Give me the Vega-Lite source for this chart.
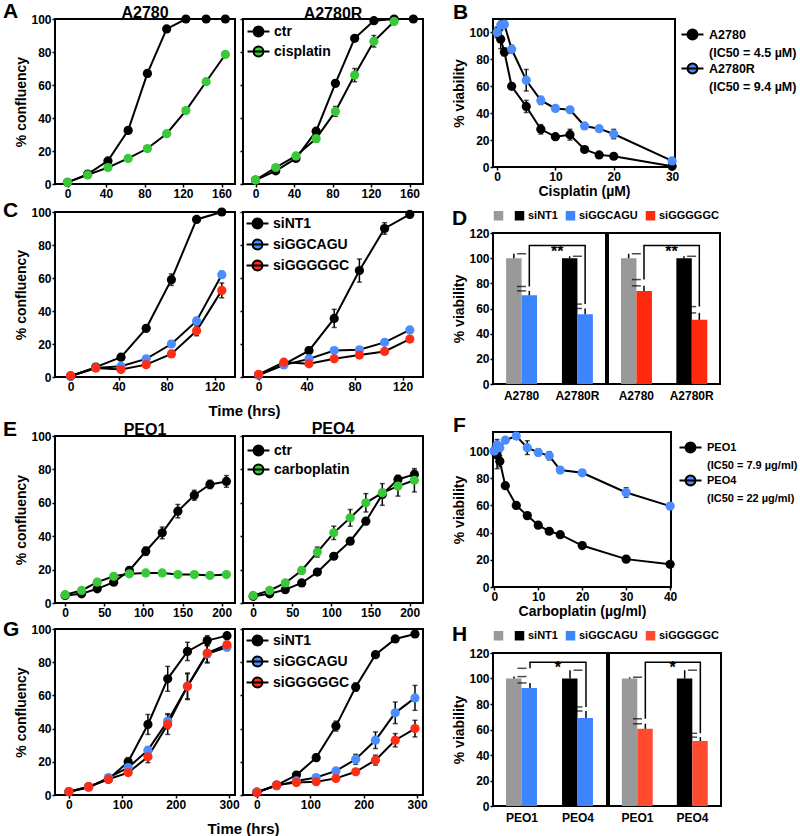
{
"$schema":"https://vega.github.io/schema/vega-lite/v6.json",
"padding":{"left":2,"top":0,"right":0,"bottom":0},
"background":"white",
"config":{
 "font":"Liberation Sans",
 "view":{"stroke":"black","strokeWidth":2},
 "concat":{"spacing":8},
 "axis":{"domain":false,"grid":false,"tickColor":"black","tickWidth":1.5,"tickSize":3,"labelFont":"Liberation Sans","labelFontSize":12,"labelFontWeight":"bold","labelColor":"black","labelPadding":1,"labelFlush":false,"labelOverlap":false,"titleFont":"Liberation Sans","titleFontSize":14,"titleFontWeight":"bold","titleColor":"black","titlePadding":2},
 "title":{"font":"Liberation Sans","fontSize":16,"fontWeight":"bold","color":"black","offset":2},
 "legend":{"labelFont":"Liberation Sans","labelFontWeight":"bold","labelColor":"black","labelLimit":300},
 "tick":{"bandSize":9,"thickness":1.5}
},
"datasets":{
 "A1":[
  {"s":"ctr","t":0,"v":1,"e":0.5},{"s":"ctr","t":21,"v":6,"e":1},{"s":"ctr","t":42,"v":14,"e":1},{"s":"ctr","t":63,"v":32.5,"e":1.5},{"s":"ctr","t":83,"v":67,"e":2},{"s":"ctr","t":103,"v":94,"e":1.5},{"s":"ctr","t":123,"v":100,"e":0.5},{"s":"ctr","t":144,"v":100,"e":0.5},{"s":"ctr","t":164,"v":100,"e":0.5},
  {"s":"cisplatin","t":0,"v":1,"e":0.5},{"s":"cisplatin","t":21,"v":5.5,"e":0.5},{"s":"cisplatin","t":42,"v":10,"e":0.5},{"s":"cisplatin","t":63,"v":15.5,"e":1},{"s":"cisplatin","t":83,"v":21.5,"e":1},{"s":"cisplatin","t":103,"v":30.5,"e":1.5},{"s":"cisplatin","t":123,"v":44.5,"e":1.5},{"s":"cisplatin","t":144,"v":62,"e":1.5},{"s":"cisplatin","t":164,"v":78.5,"e":1.5}],
 "A2":[
  {"s":"ctr","t":0,"v":2.4,"e":0.5},{"s":"ctr","t":21,"v":8,"e":1},{"s":"ctr","t":42,"v":15.5,"e":1},{"s":"ctr","t":63,"v":32,"e":1.5},{"s":"ctr","t":83,"v":61,"e":2},{"s":"ctr","t":103,"v":88.3,"e":1.5},{"s":"ctr","t":123,"v":99,"e":1},{"s":"ctr","t":144,"v":100,"e":0.5},{"s":"ctr","t":164,"v":100,"e":0.5},
  {"s":"cisplatin","t":0,"v":2.4,"e":0.5},{"s":"cisplatin","t":21,"v":10,"e":1},{"s":"cisplatin","t":42,"v":17,"e":1.5},{"s":"cisplatin","t":63,"v":27.5,"e":2},{"s":"cisplatin","t":83,"v":44,"e":3},{"s":"cisplatin","t":103,"v":66,"e":4},{"s":"cisplatin","t":123,"v":86.5,"e":3.5},{"s":"cisplatin","t":144,"v":98.5,"e":1}],
 "B":[
  {"s":"A2780","c":0,"v":100,"e":4},{"s":"A2780","c":0.625,"v":95,"e":7},{"s":"A2780","c":1.25,"v":85.5,"e":3},{"s":"A2780","c":2.5,"v":60,"e":2},{"s":"A2780","c":5,"v":45,"e":4.5},{"s":"A2780","c":7.5,"v":28,"e":3.5},{"s":"A2780","c":10,"v":22.5,"e":2},{"s":"A2780","c":12.5,"v":24,"e":4},{"s":"A2780","c":15,"v":13,"e":2},{"s":"A2780","c":17.5,"v":9,"e":1.5},{"s":"A2780","c":20,"v":8,"e":1.5},{"s":"A2780","c":30,"v":0.5,"e":1},
  {"s":"A2780R","c":0,"v":100,"e":3},{"s":"A2780R","c":0.625,"v":105.5,"e":4},{"s":"A2780R","c":1.25,"v":106,"e":3},{"s":"A2780R","c":2.5,"v":87.5,"e":3},{"s":"A2780R","c":5,"v":64.5,"e":8},{"s":"A2780R","c":7.5,"v":49.5,"e":3},{"s":"A2780R","c":10,"v":43.5,"e":2},{"s":"A2780R","c":12.5,"v":42.5,"e":2},{"s":"A2780R","c":15,"v":30.5,"e":2},{"s":"A2780R","c":17.5,"v":28.5,"e":1.5},{"s":"A2780R","c":20,"v":24.5,"e":3.5},{"s":"A2780R","c":30,"v":4.5,"e":1}],
 "C1":[
  {"s":"siNT1","t":0,"v":0.5,"e":0.5},{"s":"siNT1","t":21,"v":6,"e":1},{"s":"siNT1","t":42,"v":12,"e":1},{"s":"siNT1","t":63,"v":29.5,"e":2},{"s":"siNT1","t":84,"v":59,"e":3.5},{"s":"siNT1","t":105,"v":95.5,"e":1.5},{"s":"siNT1","t":126,"v":100,"e":0.5},
  {"s":"siGGCAGU","t":0,"v":0.5,"e":0.5},{"s":"siGGCAGU","t":21,"v":5.5,"e":1},{"s":"siGGCAGU","t":42,"v":6.5,"e":1},{"s":"siGGCAGU","t":63,"v":11,"e":1.5},{"s":"siGGCAGU","t":84,"v":20,"e":2},{"s":"siGGCAGU","t":105,"v":34,"e":2},{"s":"siGGCAGU","t":126,"v":62,"e":2},
  {"s":"siGGGGGC","t":0,"v":0.8,"e":0.5},{"s":"siGGGGGC","t":21,"v":5.5,"e":1},{"s":"siGGGGGC","t":42,"v":4.5,"e":1},{"s":"siGGGGGC","t":63,"v":7.5,"e":1},{"s":"siGGGGGC","t":84,"v":14,"e":2},{"s":"siGGGGGC","t":105,"v":28,"e":3},{"s":"siGGGGGC","t":126,"v":52.5,"e":4.5}],
 "C2":[
  {"s":"siNT1","t":0,"v":1.2,"e":0.5},{"s":"siNT1","t":21,"v":7.7,"e":1},{"s":"siNT1","t":42,"v":16,"e":2},{"s":"siNT1","t":63,"v":35.5,"e":5.5},{"s":"siNT1","t":84,"v":64.5,"e":7},{"s":"siNT1","t":105,"v":90,"e":3.5},{"s":"siNT1","t":126,"v":98.5,"e":1.5},
  {"s":"siGGCAGU","t":0,"v":1.2,"e":0.5},{"s":"siGGCAGU","t":21,"v":7.3,"e":1},{"s":"siGGCAGU","t":42,"v":11,"e":1.5},{"s":"siGGCAGU","t":63,"v":16,"e":1.5},{"s":"siGGCAGU","t":84,"v":16.5,"e":1.5},{"s":"siGGCAGU","t":105,"v":21,"e":1.5},{"s":"siGGCAGU","t":126,"v":28.5,"e":1.5},
  {"s":"siGGGGGC","t":0,"v":1.6,"e":0.5},{"s":"siGGGGGC","t":21,"v":9,"e":1},{"s":"siGGGGGC","t":42,"v":8,"e":1.5},{"s":"siGGGGGC","t":63,"v":11,"e":1.5},{"s":"siGGGGGC","t":84,"v":13.3,"e":1.5},{"s":"siGGGGGC","t":105,"v":15.5,"e":1.5},{"s":"siGGGGGC","t":126,"v":23,"e":1.5}],
 "D1":[{"cat":"A2780","k":"ctl","g":"NT1a","v":100,"hi":103.5},{"cat":"A2780","k":"trt","g":"siGGCAGU","v":70.5,"hi":74},{"cat":"A2780R","k":"ctl","g":"siNT1","v":100,"hi":101.5},{"cat":"A2780R","k":"trt","g":"siGGCAGU","v":55.5,"hi":60}],
 "D2":[{"cat":"A2780","k":"ctl","g":"NT1a","v":100,"hi":103.5},{"cat":"A2780","k":"trt","g":"siGGGGGC","v":74,"hi":78},{"cat":"A2780R","k":"ctl","g":"siNT1","v":100,"hi":101.5},{"cat":"A2780R","k":"trt","g":"siGGGGGC","v":51,"hi":56.5}],
 "D1br":[{"cat":"A2780","y":77.5,"o":1},{"cat":"A2780","y":110,"o":2},{"cat":"A2780R","y":110,"o":3},{"cat":"A2780R","y":63.5,"o":4}],
 "D2br":[{"cat":"A2780","y":83,"o":1},{"cat":"A2780","y":110,"o":2},{"cat":"A2780R","y":110,"o":3},{"cat":"A2780R","y":61.5,"o":4}],
 "E1":[
  {"s":"ctr","t":0,"v":4.5,"e":1},{"s":"ctr","t":21,"v":5.5,"e":1},{"s":"ctr","t":41,"v":8.5,"e":1},{"s":"ctr","t":62,"v":12.5,"e":1.5},{"s":"ctr","t":82,"v":19.5,"e":2},{"s":"ctr","t":103,"v":31,"e":2.5},{"s":"ctr","t":124,"v":42,"e":3.5},{"s":"ctr","t":144,"v":55,"e":4},{"s":"ctr","t":165,"v":64.5,"e":3},{"s":"ctr","t":185,"v":71,"e":2.5},{"s":"ctr","t":206,"v":72.8,"e":3.5},
  {"s":"carboplatin","t":0,"v":5,"e":1},{"s":"carboplatin","t":21,"v":7.5,"e":1},{"s":"carboplatin","t":41,"v":12.5,"e":1.5},{"s":"carboplatin","t":62,"v":16,"e":1.5},{"s":"carboplatin","t":82,"v":17.5,"e":1.5},{"s":"carboplatin","t":103,"v":18,"e":1},{"s":"carboplatin","t":124,"v":18,"e":1},{"s":"carboplatin","t":144,"v":17,"e":1},{"s":"carboplatin","t":165,"v":17,"e":1},{"s":"carboplatin","t":185,"v":16.5,"e":1},{"s":"carboplatin","t":206,"v":17,"e":1}],
 "E2":[
  {"s":"ctr","t":0,"v":4,"e":1},{"s":"ctr","t":21,"v":5.5,"e":1},{"s":"ctr","t":41,"v":8,"e":1},{"s":"ctr","t":62,"v":12,"e":1},{"s":"ctr","t":82,"v":18.5,"e":1.5},{"s":"ctr","t":103,"v":28,"e":1.5},{"s":"ctr","t":124,"v":37,"e":1.5},{"s":"ctr","t":144,"v":49,"e":2},{"s":"ctr","t":165,"v":65,"e":6.5},{"s":"ctr","t":185,"v":74,"e":2.5},{"s":"ctr","t":206,"v":77,"e":2.5},
  {"s":"carboplatin","t":0,"v":4.5,"e":1},{"s":"carboplatin","t":21,"v":7.5,"e":1},{"s":"carboplatin","t":41,"v":12,"e":1.5},{"s":"carboplatin","t":62,"v":19.5,"e":2},{"s":"carboplatin","t":82,"v":30.5,"e":3},{"s":"carboplatin","t":103,"v":42,"e":4},{"s":"carboplatin","t":124,"v":51,"e":5},{"s":"carboplatin","t":144,"v":60,"e":5.5},{"s":"carboplatin","t":165,"v":66,"e":2},{"s":"carboplatin","t":185,"v":70,"e":6},{"s":"carboplatin","t":206,"v":73.5,"e":7}],
 "F":[
  {"s":"PEO1","c":0,"v":100,"e":4},{"s":"PEO1","c":0.625,"v":97,"e":10},{"s":"PEO1","c":1.25,"v":92.5,"e":4},{"s":"PEO1","c":2.5,"v":74.5,"e":2},{"s":"PEO1","c":5,"v":60,"e":2},{"s":"PEO1","c":7.5,"v":52.5,"e":2},{"s":"PEO1","c":10,"v":45.5,"e":2},{"s":"PEO1","c":12.5,"v":41,"e":2},{"s":"PEO1","c":15,"v":38.5,"e":2},{"s":"PEO1","c":20,"v":30.5,"e":1.5},{"s":"PEO1","c":30,"v":20.5,"e":1.5},{"s":"PEO1","c":40,"v":16.7,"e":1.5},
  {"s":"PEO4","c":0,"v":100,"e":3},{"s":"PEO4","c":0.625,"v":104.5,"e":4},{"s":"PEO4","c":1.25,"v":102.5,"e":3},{"s":"PEO4","c":2.5,"v":108,"e":2},{"s":"PEO4","c":5,"v":111,"e":2},{"s":"PEO4","c":7.5,"v":102.5,"e":5},{"s":"PEO4","c":10,"v":99,"e":2.5},{"s":"PEO4","c":12.5,"v":96.5,"e":3},{"s":"PEO4","c":15,"v":86,"e":2},{"s":"PEO4","c":20,"v":84,"e":2},{"s":"PEO4","c":30,"v":69.5,"e":3.5},{"s":"PEO4","c":40,"v":59.5,"e":2.5}],
 "G1":[
  {"s":"siNT1","t":0,"v":2,"e":0.5},{"s":"siNT1","t":37,"v":5,"e":1},{"s":"siNT1","t":74,"v":9.5,"e":1.5},{"s":"siNT1","t":111,"v":20,"e":2.5},{"s":"siNT1","t":148,"v":42.5,"e":6},{"s":"siNT1","t":185,"v":70,"e":7.5},{"s":"siNT1","t":222,"v":86.5,"e":5.5},{"s":"siNT1","t":259,"v":93,"e":3},{"s":"siNT1","t":296,"v":96,"e":1.5},
  {"s":"siGGCAGU","t":0,"v":2,"e":0.5},{"s":"siGGCAGU","t":37,"v":4.5,"e":1},{"s":"siGGCAGU","t":74,"v":10.5,"e":1},{"s":"siGGCAGU","t":111,"v":16.5,"e":1.5},{"s":"siGGCAGU","t":148,"v":27,"e":2},{"s":"siGGCAGU","t":185,"v":44.5,"e":4.5},{"s":"siGGCAGU","t":222,"v":65.5,"e":8},{"s":"siGGCAGU","t":259,"v":85,"e":5},{"s":"siGGCAGU","t":296,"v":89,"e":2},
  {"s":"siGGGGGC","t":0,"v":2,"e":0.5},{"s":"siGGGGGC","t":37,"v":5,"e":1},{"s":"siGGGGGC","t":74,"v":9.5,"e":1},{"s":"siGGGGGC","t":111,"v":13.5,"e":1.5},{"s":"siGGGGGC","t":148,"v":23,"e":3.5},{"s":"siGGGGGC","t":185,"v":42.5,"e":6},{"s":"siGGGGGC","t":222,"v":65.5,"e":7.5},{"s":"siGGGGGC","t":259,"v":85.5,"e":6},{"s":"siGGGGGC","t":296,"v":90.5,"e":2}],
 "G2":[
  {"s":"siNT1","t":0,"v":1.5,"e":0.5},{"s":"siNT1","t":37,"v":6,"e":1},{"s":"siNT1","t":74,"v":12,"e":1.5},{"s":"siNT1","t":111,"v":22.5,"e":2},{"s":"siNT1","t":148,"v":41.5,"e":3},{"s":"siNT1","t":185,"v":65,"e":2.5},{"s":"siNT1","t":222,"v":84.5,"e":1.5},{"s":"siNT1","t":259,"v":94,"e":1.5},{"s":"siNT1","t":296,"v":97,"e":1.5},
  {"s":"siGGCAGU","t":0,"v":2,"e":0.5},{"s":"siGGCAGU","t":37,"v":5.5,"e":1},{"s":"siGGCAGU","t":74,"v":8.5,"e":1},{"s":"siGGCAGU","t":111,"v":10.5,"e":1},{"s":"siGGCAGU","t":148,"v":14.5,"e":1.5},{"s":"siGGCAGU","t":185,"v":21.5,"e":3},{"s":"siGGCAGU","t":222,"v":33,"e":5},{"s":"siGGCAGU","t":259,"v":49.5,"e":6.5},{"s":"siGGCAGU","t":296,"v":58.5,"e":7.5},
  {"s":"siGGGGGC","t":0,"v":1.5,"e":0.5},{"s":"siGGGGGC","t":37,"v":6,"e":1},{"s":"siGGGGGC","t":74,"v":7.5,"e":1.5},{"s":"siGGGGGC","t":111,"v":8,"e":1},{"s":"siGGGGGC","t":148,"v":10,"e":1},{"s":"siGGGGGC","t":185,"v":14,"e":1.5},{"s":"siGGGGGC","t":222,"v":21,"e":3},{"s":"siGGGGGC","t":259,"v":33,"e":4},{"s":"siGGGGGC","t":296,"v":40,"e":5}],
 "H1":[{"cat":"PEO1","k":"ctl","g":"NT1a","v":100,"hi":101.5},{"cat":"PEO1","k":"trt","g":"siGGCAGU","v":92.5,"hi":96.5},{"cat":"PEO4","k":"ctl","g":"siNT1","v":100,"hi":106.5},{"cat":"PEO4","k":"trt","g":"siGGCAGU","v":69,"hi":74.5}],
 "H2":[{"cat":"PEO1","k":"ctl","g":"NT1a","v":100,"hi":101},{"cat":"PEO1","k":"trt","g":"siGGGGGC","v":60.5,"hi":64.5},{"cat":"PEO4","k":"ctl","g":"siNT1","v":100,"hi":106.5},{"cat":"PEO4","k":"trt","g":"siGGGGGC","v":51,"hi":54}],
 "H1br":[{"cat":"PEO1","y":108,"o":1},{"cat":"PEO1","y":112.7,"o":2},{"cat":"PEO4","y":112.7,"o":3},{"cat":"PEO4","y":77.7,"o":4}],
 "H2br":[{"cat":"PEO1","y":68.4,"o":1},{"cat":"PEO1","y":112.7,"o":2},{"cat":"PEO4","y":112.7,"o":3},{"cat":"PEO4","y":57,"o":4}]
},
"spacing":22,
"resolve":{"scale":{"color":"independent","opacity":"independent"}},
"hconcat":[
 {"spacing":0,"resolve":{"scale":{"color":"independent"}},"vconcat":[
  {"spacing":0,"resolve":{"scale":{"color":"independent"}},"vconcat":[
   {"title":{"text":"A","anchor":"start","frame":"bounds","fontSize":21,"offset":-18,"dx":-11},"spacing":8,"bounds":"flush","resolve":{"scale":{"color":"independent"}},"hconcat":[
    {"title":{"text":"A2780","offset":-8},"width":180,"height":165,"data":{"name":"A1"},
     "encoding":{"x":{"field":"t","type":"quantitative","title":null,"scale":{"domain":[-13,174],"nice":false,"zero":false},"axis":{"values":[0,40,80,120,160]}},
                 "y":{"field":"v","type":"quantitative","title":"% confluency","scale":{"domain":[0,100],"nice":false},"axis":{"values":[0,20,40,60,80,100]}}},
     "layer":[
      {"mark":{"type":"line","color":"black","strokeWidth":2},"encoding":{"detail":{"field":"s"}}},
      {"mark":{"type":"errorbar","ticks":true,"thickness":1.5,"color":"black"},"encoding":{"yError":{"field":"e"},"detail":{"field":"s"}}},
      {"mark":{"type":"point","filled":true,"size":85,"opacity":1},"encoding":{"color":{"field":"s","type":"nominal","scale":{"domain":["ctr","cisplatin"],"range":["#000000","#38c838"]},"legend":null}}}
     ]},
    {"title":{"text":"A2780R","offset":-8},"width":180,"height":165,"data":{"name":"A2"},
     "encoding":{"x":{"field":"t","type":"quantitative","title":null,"scale":{"domain":[-13,174],"nice":false,"zero":false},"axis":{"values":[0,40,80,120,160]}},
                 "y":{"field":"v","type":"quantitative","title":null,"scale":{"domain":[0,100],"nice":false},"axis":{"values":[0,20,40,60,80,100],"labels":false}}},
     "layer":[
      {"mark":{"type":"line","color":"black","strokeWidth":2},"encoding":{"detail":{"field":"s"}}},
      {"mark":{"type":"errorbar","ticks":true,"thickness":1.5,"color":"black"},"encoding":{"yError":{"field":"e"},"detail":{"field":"s"}}},
      {"mark":{"type":"point","filled":true,"size":85,"opacity":1},"encoding":{"color":{"field":"s","type":"nominal","scale":{"domain":["ctr","cisplatin"],"range":["#000000","#38c838"]},
        "legend":{"orient":"top-left","title":null,"offset":3,"padding":0,"labelFontSize":14,"labelOffset":6,"symbolOffset":3,"rowPadding":1,"symbolType":"M-1.33,0L1.33,0M0.6,0A0.6,0.6,0,1,1,-0.6,0A0.6,0.6,0,1,1,0.6,0Z","symbolSize":272,"symbolStrokeColor":"black","symbolStrokeWidth":2}}}},
      {"data":{"values":[{"txt":"p<0.01"}]},"mark":{"type":"text","align":"right","baseline":"bottom","dx":-9,"dy":-4,"fontSize":14,"fontWeight":"bold","color":"black"},"encoding":{"x":{"datum":174},"y":{"datum":0},"text":{"field":"txt"}}}
     ]}
   ]},
   {"title":{"text":"C","anchor":"start","frame":"bounds","fontSize":21,"offset":-16,"dx":-11},"spacing":8,"bounds":"flush","resolve":{"scale":{"color":"independent"}},"hconcat":[
    {"width":180,"height":165,"data":{"name":"C1"},
     "encoding":{"x":{"field":"t","type":"quantitative","title":"Time (hrs)","scale":{"domain":[-13,137],"nice":false,"zero":false},"axis":{"values":[0,40,80,120],"titleX":189,"titleFontSize":15,"titlePadding":11}},
                 "y":{"field":"v","type":"quantitative","title":"% confluency","scale":{"domain":[0,100],"nice":false},"axis":{"values":[0,20,40,60,80,100]}}},
     "layer":[
      {"mark":{"type":"line","color":"black","strokeWidth":2},"encoding":{"detail":{"field":"s"}}},
      {"mark":{"type":"errorbar","ticks":true,"thickness":1.5,"color":"black"},"encoding":{"yError":{"field":"e"},"detail":{"field":"s"}}},
      {"mark":{"type":"point","filled":true,"size":85,"opacity":1},"encoding":{"color":{"field":"s","type":"nominal","scale":{"domain":["siNT1","siGGCAGU","siGGGGGC"],"range":["#000000","#4b8dff","#ff2d14"]},"legend":null}}}
     ]},
    {"width":180,"height":165,"data":{"name":"C2"},
     "encoding":{"x":{"field":"t","type":"quantitative","title":null,"scale":{"domain":[-13,137],"nice":false,"zero":false},"axis":{"values":[0,40,80,120]}},
                 "y":{"field":"v","type":"quantitative","title":null,"scale":{"domain":[0,100],"nice":false},"axis":{"values":[0,20,40,60,80,100],"labels":false}}},
     "layer":[
      {"mark":{"type":"line","color":"black","strokeWidth":2},"encoding":{"detail":{"field":"s"}}},
      {"mark":{"type":"errorbar","ticks":true,"thickness":1.5,"color":"black"},"encoding":{"yError":{"field":"e"},"detail":{"field":"s"}}},
      {"mark":{"type":"point","filled":true,"size":85,"opacity":1},"encoding":{"color":{"field":"s","type":"nominal","scale":{"domain":["siNT1","siGGCAGU","siGGGGGC"],"range":["#000000","#4b8dff","#ff2d14"]},
        "legend":{"orient":"top-left","title":null,"offset":2,"padding":0,"labelFontSize":14,"labelOffset":6,"symbolOffset":3,"rowPadding":2,"symbolType":"M-1.33,0L1.33,0M0.6,0A0.6,0.6,0,1,1,-0.6,0A0.6,0.6,0,1,1,0.6,0Z","symbolSize":272,"symbolStrokeColor":"black","symbolStrokeWidth":2}}}},
      {"data":{"values":[{"txt":"p<0.0001"}]},"mark":{"type":"text","align":"right","baseline":"bottom","dx":-9,"dy":-4,"fontSize":14,"fontWeight":"bold","color":"black"},"encoding":{"x":{"datum":137},"y":{"datum":0},"text":{"field":"txt"}}}
     ]}
   ]}
  ]},
  {"spacing":0,"resolve":{"scale":{"color":"independent"}},"vconcat":[
   {"title":{"text":"E","anchor":"start","frame":"bounds","fontSize":21,"offset":-20,"dx":-11},"spacing":8,"bounds":"flush","resolve":{"scale":{"color":"independent"}},"hconcat":[
    {"title":{"text":"PEO1","offset":-8},"width":180,"height":167,"data":{"name":"E1"},
     "encoding":{"x":{"field":"t","type":"quantitative","title":null,"scale":{"domain":[-13,217],"nice":false,"zero":false},"axis":{"values":[0,50,100,150,200]}},
                 "y":{"field":"v","type":"quantitative","title":"% confluency","scale":{"domain":[0,100],"nice":false},"axis":{"values":[0,20,40,60,80,100]}}},
     "layer":[
      {"mark":{"type":"line","color":"black","strokeWidth":2},"encoding":{"detail":{"field":"s"}}},
      {"mark":{"type":"errorbar","ticks":true,"thickness":1.5,"color":"black"},"encoding":{"yError":{"field":"e"},"detail":{"field":"s"}}},
      {"mark":{"type":"point","filled":true,"size":85,"opacity":1},"encoding":{"color":{"field":"s","type":"nominal","scale":{"domain":["ctr","carboplatin"],"range":["#000000","#38c838"]},"legend":null}}}
     ]},
    {"title":{"text":"PEO4","offset":-2},"width":180,"height":167,"data":{"name":"E2"},
     "encoding":{"x":{"field":"t","type":"quantitative","title":null,"scale":{"domain":[-13,217],"nice":false,"zero":false},"axis":{"values":[0,50,100,150,200]}},
                 "y":{"field":"v","type":"quantitative","title":null,"scale":{"domain":[0,100],"nice":false},"axis":{"values":[0,20,40,60,80,100],"labels":false}}},
     "layer":[
      {"mark":{"type":"line","color":"black","strokeWidth":2},"encoding":{"detail":{"field":"s"}}},
      {"mark":{"type":"errorbar","ticks":true,"thickness":1.5,"color":"black"},"encoding":{"yError":{"field":"e"},"detail":{"field":"s"}}},
      {"mark":{"type":"point","filled":true,"size":85,"opacity":1},"encoding":{"color":{"field":"s","type":"nominal","scale":{"domain":["ctr","carboplatin"],"range":["#000000","#38c838"]},
        "legend":{"orient":"top-left","title":null,"offset":5,"padding":0,"labelFontSize":14,"labelOffset":6,"symbolOffset":1,"rowPadding":0,"symbolType":"M-1.33,0L1.33,0M0.6,0A0.6,0.6,0,1,1,-0.6,0A0.6,0.6,0,1,1,0.6,0Z","symbolSize":272,"symbolStrokeColor":"black","symbolStrokeWidth":2}}}},
      {"data":{"values":[{"txt":"p<0.0001"}]},"mark":{"type":"text","align":"right","baseline":"bottom","dx":-9,"dy":-4,"fontSize":14,"fontWeight":"bold","color":"black"},"encoding":{"x":{"datum":217},"y":{"datum":0},"text":{"field":"txt"}}}
     ]}
   ]},
   {"title":{"text":"G","anchor":"start","frame":"bounds","fontSize":21,"offset":-18,"dx":-11},"spacing":8,"bounds":"flush","resolve":{"scale":{"color":"independent"}},"hconcat":[
    {"width":180,"height":166,"data":{"name":"G1"},
     "encoding":{"x":{"field":"t","type":"quantitative","title":"Time (hrs)","scale":{"domain":[-26,311],"nice":false,"zero":false},"axis":{"values":[0,100,200,300],"titleX":188,"titleFontSize":15,"titlePadding":11}},
                 "y":{"field":"v","type":"quantitative","title":"% confluency","scale":{"domain":[0,100],"nice":false},"axis":{"values":[0,20,40,60,80,100]}}},
     "layer":[
      {"mark":{"type":"line","color":"black","strokeWidth":2},"encoding":{"detail":{"field":"s"}}},
      {"mark":{"type":"errorbar","ticks":true,"thickness":1.5,"color":"black"},"encoding":{"yError":{"field":"e"},"detail":{"field":"s"}}},
      {"mark":{"type":"point","filled":true,"size":85,"opacity":1},"encoding":{"color":{"field":"s","type":"nominal","scale":{"domain":["siNT1","siGGCAGU","siGGGGGC"],"range":["#000000","#4b8dff","#ff2d14"]},"legend":null}}}
     ]},
    {"width":180,"height":166,"data":{"name":"G2"},
     "encoding":{"x":{"field":"t","type":"quantitative","title":null,"scale":{"domain":[-26,311],"nice":false,"zero":false},"axis":{"values":[0,100,200,300]}},
                 "y":{"field":"v","type":"quantitative","title":null,"scale":{"domain":[0,100],"nice":false},"axis":{"values":[0,20,40,60,80,100],"labels":false}}},
     "layer":[
      {"mark":{"type":"line","color":"black","strokeWidth":2},"encoding":{"detail":{"field":"s"}}},
      {"mark":{"type":"errorbar","ticks":true,"thickness":1.5,"color":"black"},"encoding":{"yError":{"field":"e"},"detail":{"field":"s"}}},
      {"mark":{"type":"point","filled":true,"size":85,"opacity":1},"encoding":{"color":{"field":"s","type":"nominal","scale":{"domain":["siNT1","siGGCAGU","siGGGGGC"],"range":["#000000","#4b8dff","#ff2d14"]},
        "legend":{"orient":"top-left","title":null,"offset":2,"padding":0,"labelFontSize":14,"labelOffset":6,"symbolOffset":3,"rowPadding":2,"symbolType":"M-1.33,0L1.33,0M0.6,0A0.6,0.6,0,1,1,-0.6,0A0.6,0.6,0,1,1,0.6,0Z","symbolSize":272,"symbolStrokeColor":"black","symbolStrokeWidth":2}}}},
      {"data":{"values":[{"txt":"p<0.0001"}]},"mark":{"type":"text","align":"right","baseline":"bottom","dx":-9,"dy":-4,"fontSize":14,"fontWeight":"bold","color":"black"},"encoding":{"x":{"datum":311},"y":{"datum":0},"text":{"field":"txt"}}}
     ]}
   ]}
  ]}
 ]},
 {"spacing":12,"resolve":{"scale":{"color":"independent","opacity":"independent"}},"vconcat":[
  {"spacing":9,"resolve":{"scale":{"color":"independent","opacity":"independent"}},"vconcat":[
   {"title":{"text":"B","anchor":"start","frame":"bounds","fontSize":21,"offset":-4},"width":182,"height":148,"data":{"name":"B"},
    "encoding":{"x":{"field":"c","type":"quantitative","title":"Cisplatin (µM)","scale":{"domain":[-0.7,30.5],"nice":false,"zero":false},"axis":{"values":[0,10,20,30]}},
                "y":{"field":"v","type":"quantitative","title":"% viability","scale":{"domain":[0,110],"nice":false},"axis":{"values":[0,20,40,60,80,100]}}},
    "layer":[
     {"mark":{"type":"line","color":"black","strokeWidth":2},"encoding":{"detail":{"field":"s"}}},
     {"mark":{"type":"errorbar","ticks":true,"thickness":1.5,"color":"black"},"encoding":{"yError":{"field":"e"},"detail":{"field":"s"}}},
     {"mark":{"type":"point","filled":true,"size":85},"encoding":{
       "color":{"field":"s","type":"nominal","scale":{"domain":["A2780","(IC50 = 4.5 µM)","A2780R","(IC50 = 9.4 µM)"],"range":["#000000","#ffffff","#4b8dff","#ffffff"]},
        "legend":{"orient":"right","title":null,"offset":0,"padding":7,"labelFontSize":12.5,"labelOffset":8,"rowPadding":0,"symbolType":"M-1.56,0L1.56,0M0.7,0A0.7,0.7,0,1,1,-0.7,0A0.7,0.7,0,1,1,0.7,0Z","symbolSize":200,"symbolStrokeColor":"black","symbolStrokeWidth":2}},
       "opacity":{"field":"s","type":"nominal","scale":{"type":"ordinal","domain":["A2780","(IC50 = 4.5 µM)","A2780R","(IC50 = 9.4 µM)"],"range":[1,0,1,0]},
        "legend":{"orient":"right","title":null,"offset":0,"padding":7,"labelFontSize":12.5,"labelOffset":8,"rowPadding":0,"symbolType":"M-1.56,0L1.56,0M0.7,0A0.7,0.7,0,1,1,-0.7,0A0.7,0.7,0,1,1,0.7,0Z","symbolSize":200,"symbolStrokeColor":"black","symbolStrokeWidth":2}}}}
    ]},
   {"title":{"text":"D","anchor":"start","frame":"bounds","fontSize":21,"offset":-19},"spacing":0,"hconcat":[
    {"width":113,"height":151,"data":{"name":"D1"},
     "encoding":{"x":{"field":"cat","type":"nominal","title":null,"sort":["A2780","A2780R"],"scale":{"paddingInner":0.446,"paddingOuter":0.235},"axis":{"ticks":false,"labelAngle":0,"labelPadding":6}},
                 "y":{"field":"v","type":"quantitative","title":"% viability","scale":{"domain":[0,120],"nice":false},"axis":{"values":[0,20,40,60,80,100,120]}}},
     "layer":[
      {"mark":{"type":"bar"},"encoding":{"xOffset":{"field":"k","type":"nominal","sort":["ctl","trt"]},"color":{"field":"g","type":"nominal","scale":{"domain":["NT1a","siNT1","siGGCAGU","siGGGGGC"],"range":["#999999","#000000","#3d85ff","#ff2a0d"]},
        "legend":{"orient":"top","direction":"horizontal","title":null,"offset":5,"padding":0,"symbolType":"square","symbolSize":90,"symbolStrokeWidth":0,"labelFontSize":11,"labelOffset":3,"columnPadding":7,"labelExpr":"datum.value=='NT1a' ? '' : datum.label"}}}},
      {"transform":[{"filter":"datum.k=='ctl'"}],"mark":{"type":"rule","color":"black","strokeWidth":1.5},"encoding":{"x":{"field":"cat","type":"nominal","bandPosition":0.25},"y2":{"field":"hi"}}},
      {"transform":[{"filter":"datum.k=='ctl'"}],"mark":{"type":"tick","orient":"horizontal","color":"black","thickness":1.5,"size":9},"encoding":{"x":{"field":"cat","type":"nominal","bandPosition":0.25},"y":{"field":"hi","type":"quantitative"}}},
      {"transform":[{"filter":"datum.k=='trt'"}],"mark":{"type":"rule","color":"black","strokeWidth":1.5},"encoding":{"x":{"field":"cat","type":"nominal","bandPosition":0.75},"y2":{"field":"hi"}}},
      {"transform":[{"filter":"datum.k=='trt'"}],"mark":{"type":"tick","orient":"horizontal","color":"black","thickness":1.5,"size":9},"encoding":{"x":{"field":"cat","type":"nominal","bandPosition":0.75},"y":{"field":"hi","type":"quantitative"}}},
      {"data":{"name":"D1br"},"mark":{"type":"line","color":"black","strokeWidth":1.5},"encoding":{"x":{"field":"cat","type":"nominal","bandPosition":0.75},"y":{"field":"y","type":"quantitative"},"order":{"field":"o"}}},
      {"data":{"name":"D1br"},"transform":[{"filter":"datum.o==1 || datum.o==4"}],"mark":{"type":"tick","orient":"horizontal","color":"black","thickness":1.5,"size":9},"encoding":{"x":{"field":"cat","type":"nominal","bandPosition":0.75},"y":{"field":"y","type":"quantitative"}}},
      {"data":{"values":[{"cat":"A2780","y":110,"txt":"**"}]},"mark":{"type":"text","fontSize":16,"fontWeight":"bold","dy":6,"color":"black"},"encoding":{"x":{"field":"cat","type":"nominal","bandPosition":1.65},"y":{"field":"y","type":"quantitative"},"text":{"field":"txt"}}}
     ]},
    {"width":112,"height":151,"data":{"name":"D2"},
     "encoding":{"x":{"field":"cat","type":"nominal","title":null,"sort":["A2780","A2780R"],"scale":{"paddingInner":0.446,"paddingOuter":0.235},"axis":{"ticks":false,"labelAngle":0,"labelPadding":6}},
                 "y":{"field":"v","type":"quantitative","scale":{"domain":[0,120],"nice":false},"axis":null}},
     "layer":[
      {"mark":{"type":"bar"},"encoding":{"xOffset":{"field":"k","type":"nominal","sort":["ctl","trt"]},"color":{"field":"g","type":"nominal","scale":{"domain":["NT1a","siNT1","siGGCAGU","siGGGGGC"],"range":["#999999","#000000","#3d85ff","#ff2a0d"]},
        "legend":{"orient":"top","direction":"horizontal","title":null,"offset":5,"padding":0,"symbolType":"square","symbolSize":90,"symbolStrokeWidth":0,"labelFontSize":11,"labelOffset":3,"columnPadding":7,"labelExpr":"datum.value=='NT1a' ? '' : datum.label"}}}},
      {"transform":[{"filter":"datum.k=='ctl'"}],"mark":{"type":"rule","color":"black","strokeWidth":1.5},"encoding":{"x":{"field":"cat","type":"nominal","bandPosition":0.25},"y2":{"field":"hi"}}},
      {"transform":[{"filter":"datum.k=='ctl'"}],"mark":{"type":"tick","orient":"horizontal","color":"black","thickness":1.5,"size":9},"encoding":{"x":{"field":"cat","type":"nominal","bandPosition":0.25},"y":{"field":"hi","type":"quantitative","axis":null}}},
      {"transform":[{"filter":"datum.k=='trt'"}],"mark":{"type":"rule","color":"black","strokeWidth":1.5},"encoding":{"x":{"field":"cat","type":"nominal","bandPosition":0.75},"y2":{"field":"hi"}}},
      {"transform":[{"filter":"datum.k=='trt'"}],"mark":{"type":"tick","orient":"horizontal","color":"black","thickness":1.5,"size":9},"encoding":{"x":{"field":"cat","type":"nominal","bandPosition":0.75},"y":{"field":"hi","type":"quantitative","axis":null}}},
      {"data":{"name":"D2br"},"mark":{"type":"line","color":"black","strokeWidth":1.5},"encoding":{"x":{"field":"cat","type":"nominal","bandPosition":0.75},"y":{"field":"y","type":"quantitative","axis":null},"order":{"field":"o"}}},
      {"data":{"name":"D2br"},"transform":[{"filter":"datum.o==1 || datum.o==4"}],"mark":{"type":"tick","orient":"horizontal","color":"black","thickness":1.5,"size":9},"encoding":{"x":{"field":"cat","type":"nominal","bandPosition":0.75},"y":{"field":"y","type":"quantitative","axis":null}}},
      {"data":{"values":[{"cat":"A2780","y":110,"txt":"**"}]},"mark":{"type":"text","fontSize":16,"fontWeight":"bold","dy":6,"color":"black"},"encoding":{"x":{"field":"cat","type":"nominal","bandPosition":1.65},"y":{"field":"y","type":"quantitative","axis":null},"text":{"field":"txt"}}}
     ]}
   ]}
  ]},
  {"spacing":5,"resolve":{"scale":{"color":"independent","opacity":"independent"}},"vconcat":[
   {"title":{"text":"F","anchor":"start","frame":"bounds","fontSize":21,"offset":-5},"width":178,"height":155,"data":{"name":"F"},
    "encoding":{"x":{"field":"c","type":"quantitative","title":"Carboplatin (µg/ml)","scale":{"domain":[-0.3,40.2],"nice":false,"zero":false},"axis":{"values":[0,10,20,30,40]}},
                "y":{"field":"v","type":"quantitative","title":"% viability","scale":{"domain":[0,114],"nice":false},"axis":{"values":[0,20,40,60,80,100]}}},
    "layer":[
     {"mark":{"type":"line","color":"black","strokeWidth":2},"encoding":{"detail":{"field":"s"}}},
     {"mark":{"type":"errorbar","ticks":true,"thickness":1.5,"color":"black"},"encoding":{"yError":{"field":"e"},"detail":{"field":"s"}}},
     {"mark":{"type":"point","filled":true,"size":85},"encoding":{
       "color":{"field":"s","type":"nominal","scale":{"domain":["PEO1","(IC50 = 7.9 µg/ml)","PEO4","(IC50 = 22 µg/ml)"],"range":["#000000","#ffffff","#4b8dff","#ffffff"]},
        "legend":{"orient":"right","title":null,"offset":0,"padding":7,"labelFontSize":11,"labelOffset":8,"rowPadding":0,"symbolType":"M-1.56,0L1.56,0M0.7,0A0.7,0.7,0,1,1,-0.7,0A0.7,0.7,0,1,1,0.7,0Z","symbolSize":200,"symbolStrokeColor":"black","symbolStrokeWidth":2}},
       "opacity":{"field":"s","type":"nominal","scale":{"type":"ordinal","domain":["PEO1","(IC50 = 7.9 µg/ml)","PEO4","(IC50 = 22 µg/ml)"],"range":[1,0,1,0]},
        "legend":{"orient":"right","title":null,"offset":0,"padding":7,"labelFontSize":11,"labelOffset":8,"rowPadding":0,"symbolType":"M-1.56,0L1.56,0M0.7,0A0.7,0.7,0,1,1,-0.7,0A0.7,0.7,0,1,1,0.7,0Z","symbolSize":200,"symbolStrokeColor":"black","symbolStrokeWidth":2}}}}
    ]},
   {"title":{"text":"H","anchor":"start","frame":"bounds","fontSize":21,"offset":-15},"spacing":0,"hconcat":[
    {"width":114,"height":153,"data":{"name":"H1"},
     "encoding":{"x":{"field":"cat","type":"nominal","title":null,"sort":["PEO1","PEO4"],"scale":{"paddingInner":0.43,"paddingOuter":0.233},"axis":{"ticks":false,"labelAngle":0,"labelPadding":6}},
                 "y":{"field":"v","type":"quantitative","title":"% viability","scale":{"domain":[0,120],"nice":false},"axis":{"values":[0,20,40,60,80,100,120]}}},
     "layer":[
      {"mark":{"type":"bar"},"encoding":{"xOffset":{"field":"k","type":"nominal","sort":["ctl","trt"]},"color":{"field":"g","type":"nominal","scale":{"domain":["NT1a","siNT1","siGGCAGU","siGGGGGC"],"range":["#999999","#000000","#3d85ff","#ff4a30"]},
        "legend":{"orient":"top","direction":"horizontal","title":null,"offset":5,"padding":0,"symbolType":"square","symbolSize":90,"symbolStrokeWidth":0,"labelFontSize":11,"labelOffset":3,"columnPadding":7,"labelExpr":"datum.value=='NT1a' ? '' : datum.label"}}}},
      {"transform":[{"filter":"datum.k=='ctl'"}],"mark":{"type":"rule","color":"black","strokeWidth":1.5},"encoding":{"x":{"field":"cat","type":"nominal","bandPosition":0.25},"y2":{"field":"hi"}}},
      {"transform":[{"filter":"datum.k=='ctl'"}],"mark":{"type":"tick","orient":"horizontal","color":"black","thickness":1.5,"size":9},"encoding":{"x":{"field":"cat","type":"nominal","bandPosition":0.25},"y":{"field":"hi","type":"quantitative"}}},
      {"transform":[{"filter":"datum.k=='trt'"}],"mark":{"type":"rule","color":"black","strokeWidth":1.5},"encoding":{"x":{"field":"cat","type":"nominal","bandPosition":0.75},"y2":{"field":"hi"}}},
      {"transform":[{"filter":"datum.k=='trt'"}],"mark":{"type":"tick","orient":"horizontal","color":"black","thickness":1.5,"size":9},"encoding":{"x":{"field":"cat","type":"nominal","bandPosition":0.75},"y":{"field":"hi","type":"quantitative"}}},
      {"data":{"name":"H1br"},"mark":{"type":"line","color":"black","strokeWidth":1.5},"encoding":{"x":{"field":"cat","type":"nominal","bandPosition":0.75},"y":{"field":"y","type":"quantitative"},"order":{"field":"o"}}},
      {"data":{"name":"H1br"},"transform":[{"filter":"datum.o==1 || datum.o==4"}],"mark":{"type":"tick","orient":"horizontal","color":"black","thickness":1.5,"size":9},"encoding":{"x":{"field":"cat","type":"nominal","bandPosition":0.75},"y":{"field":"y","type":"quantitative"}}},
      {"data":{"values":[{"cat":"PEO1","y":112.7,"txt":"*"}]},"mark":{"type":"text","fontSize":16,"fontWeight":"bold","dy":6,"color":"black"},"encoding":{"x":{"field":"cat","type":"nominal","bandPosition":1.62},"y":{"field":"y","type":"quantitative"},"text":{"field":"txt"}}}
     ]},
    {"width":112,"height":153,"data":{"name":"H2"},
     "encoding":{"x":{"field":"cat","type":"nominal","title":null,"sort":["PEO1","PEO4"],"scale":{"paddingInner":0.43,"paddingOuter":0.233},"axis":{"ticks":false,"labelAngle":0,"labelPadding":6}},
                 "y":{"field":"v","type":"quantitative","scale":{"domain":[0,120],"nice":false},"axis":null}},
     "layer":[
      {"mark":{"type":"bar"},"encoding":{"xOffset":{"field":"k","type":"nominal","sort":["ctl","trt"]},"color":{"field":"g","type":"nominal","scale":{"domain":["NT1a","siNT1","siGGCAGU","siGGGGGC"],"range":["#999999","#000000","#3d85ff","#ff4a30"]},
        "legend":{"orient":"top","direction":"horizontal","title":null,"offset":5,"padding":0,"symbolType":"square","symbolSize":90,"symbolStrokeWidth":0,"labelFontSize":11,"labelOffset":3,"columnPadding":7,"labelExpr":"datum.value=='NT1a' ? '' : datum.label"}}}},
      {"transform":[{"filter":"datum.k=='ctl'"}],"mark":{"type":"rule","color":"black","strokeWidth":1.5},"encoding":{"x":{"field":"cat","type":"nominal","bandPosition":0.25},"y2":{"field":"hi"}}},
      {"transform":[{"filter":"datum.k=='ctl'"}],"mark":{"type":"tick","orient":"horizontal","color":"black","thickness":1.5,"size":9},"encoding":{"x":{"field":"cat","type":"nominal","bandPosition":0.25},"y":{"field":"hi","type":"quantitative","axis":null}}},
      {"transform":[{"filter":"datum.k=='trt'"}],"mark":{"type":"rule","color":"black","strokeWidth":1.5},"encoding":{"x":{"field":"cat","type":"nominal","bandPosition":0.75},"y2":{"field":"hi"}}},
      {"transform":[{"filter":"datum.k=='trt'"}],"mark":{"type":"tick","orient":"horizontal","color":"black","thickness":1.5,"size":9},"encoding":{"x":{"field":"cat","type":"nominal","bandPosition":0.75},"y":{"field":"hi","type":"quantitative","axis":null}}},
      {"data":{"name":"H2br"},"mark":{"type":"line","color":"black","strokeWidth":1.5},"encoding":{"x":{"field":"cat","type":"nominal","bandPosition":0.75},"y":{"field":"y","type":"quantitative","axis":null},"order":{"field":"o"}}},
      {"data":{"name":"H2br"},"transform":[{"filter":"datum.o==1 || datum.o==4"}],"mark":{"type":"tick","orient":"horizontal","color":"black","thickness":1.5,"size":9},"encoding":{"x":{"field":"cat","type":"nominal","bandPosition":0.75},"y":{"field":"y","type":"quantitative","axis":null}}},
      {"data":{"values":[{"cat":"PEO1","y":112.7,"txt":"*"}]},"mark":{"type":"text","fontSize":16,"fontWeight":"bold","dy":6,"color":"black"},"encoding":{"x":{"field":"cat","type":"nominal","bandPosition":1.62},"y":{"field":"y","type":"quantitative","axis":null},"text":{"field":"txt"}}}
     ]}
   ]}
  ]}
 ]}
]
}
